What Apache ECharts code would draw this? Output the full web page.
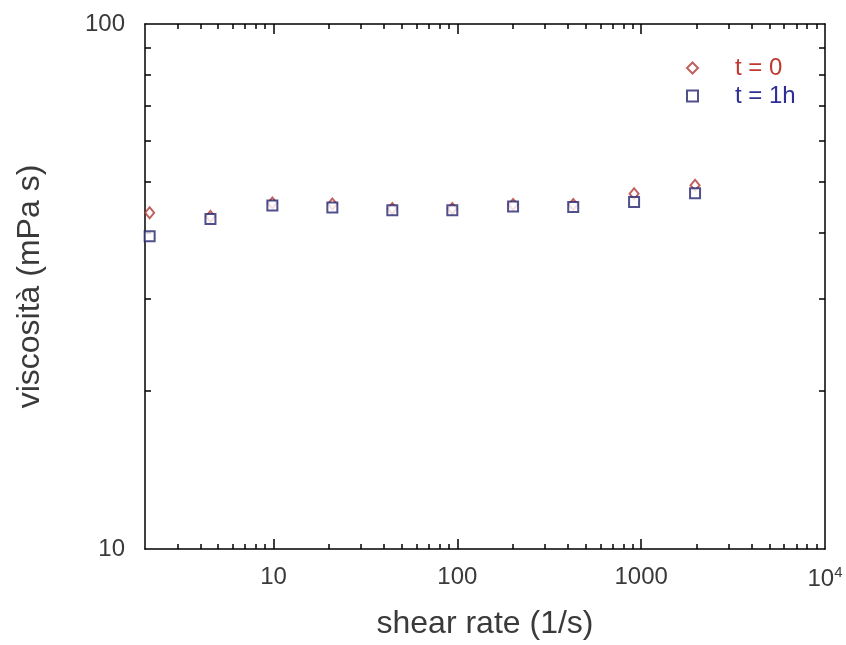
<!DOCTYPE html>
<html>
<head>
<meta charset="utf-8">
<script src="https://cdn.jsdelivr.net/npm/echarts@6/dist/echarts.min.js"></script>
<style>html,body{margin:0;padding:0;background:#fff}#c{width:846px;height:645px}</style>
</head>
<body>
<div id="c"></div>
<script>
const shearRate = [2.12, 4.54, 9.86, 20.9, 44.3, 93.9, 201, 427, 915, 1964];
const viscT0 = [43.7, 43.0, 45.6, 45.4, 44.5, 44.5, 45.3, 45.3, 47.5, 49.3];
const viscT1h = [39.4, 42.5, 45.1, 44.7, 44.2, 44.2, 44.9, 44.8, 45.8, 47.6];
const seriesNames = ['t = 0', 't = 1h'];
const xMajorTicks = [10, 100, 1000];
const xMinorTicks = [3,4,5,6,7,8,9,20,30,40,50,60,70,80,90,200,300,400,500,600,700,800,900,2000,3000,4000,5000,6000,7000,8000,9000];
const xLabels = [10, 100, 1000, 10000];
const yTicks = [20,30,40,50,60,70,80,90];
const yLabels = [10, 100];
const xTitle = 'shear rate (1/s)';
const yTitle = 'viscosità (mPa s)';

const FONT = 'Liberation Sans, Arial, sans-serif';
const RED = '#b03a36';
const BLUE = '#24246e';
const RED_TXT = '#c0392f';
const BLUE_TXT = '#2e2e96';
const TXT = '#3a3a3a';

const chart = echarts.init(document.getElementById('c'), null, {renderer: 'canvas'});

function xAxisBase(pos, extra) {
  return Object.assign({
    type: 'log', logBase: 10, min: 2, max: 10000, position: pos,
    splitLine: {show: false}, minorTick: {show: false}, minorSplitLine: {show: false},
    axisLine: {show: true, onZero: false, lineStyle: {color: '#000', width: 1.5}},
    axisLabel: {show: false},
    axisTick: {show: true, inside: true, length: 5, lineStyle: {color: '#000', width: 1.5}, customValues: xMinorTicks}
  }, extra || {});
}
function yAxisBase(pos, extra) {
  return Object.assign({
    type: 'log', logBase: 10, min: 10, max: 100, position: pos,
    splitLine: {show: false}, minorTick: {show: false}, minorSplitLine: {show: false},
    axisLine: {show: true, onZero: false, lineStyle: {color: '#000', width: 1.5}},
    axisLabel: {show: false},
    axisTick: {show: true, inside: true, length: 6, lineStyle: {color: '#000', width: 1.5}, customValues: yTicks}
  }, extra || {});
}

const option = {
  backgroundColor: '#fff',
  animation: false,
  grid: {left: 145, right: 21, top: 24, bottom: 91, containLabel: false},
  legend: {
    orient: 'vertical', left: 681, top: 51, itemWidth: 11, itemHeight: 11, itemGap: 4,
    data: [
      {name: seriesNames[0], textStyle: {color: RED_TXT}},
      {name: seriesNames[1], textStyle: {color: BLUE_TXT}}
    ],
    textStyle: {fontFamily: FONT, fontSize: 24, padding: [0, 0, 0, 32]}
  },
  xAxis: [
    xAxisBase('bottom', {
      name: xTitle, nameLocation: 'middle', nameGap: 59,
      nameTextStyle: {fontFamily: FONT, fontSize: 32, color: TXT},
      axisLabel: {
        show: true, margin: 16, fontFamily: FONT, fontSize: 24, color: TXT, customValues: xLabels,
        formatter: function (v) { return v >= 10000 ? '{a|10}{s|4}' : String(Math.round(v)); },
        rich: {a: {fontFamily: FONT, fontSize: 24, color: TXT}, s: {fontFamily: FONT, fontSize: 15, color: TXT, verticalAlign: 'top', padding: [0, 0, 14, 0]}}
      }
    }),
    xAxisBase('bottom', {axisLine: {show: false}, axisTick: {show: true, inside: true, length: 10, lineStyle: {color: '#000', width: 1.5}, customValues: xMajorTicks}}),
    xAxisBase('top'),
    xAxisBase('top', {axisLine: {show: false}, axisTick: {show: true, inside: true, length: 10, lineStyle: {color: '#000', width: 1.5}, customValues: xMajorTicks}})
  ],
  yAxis: [
    yAxisBase('left', {
      name: yTitle, nameLocation: 'middle', nameGap: 99, nameRotate: 90,
      nameTextStyle: {fontFamily: FONT, fontSize: 32, color: TXT},
      axisLabel: {show: true, margin: 20, fontFamily: FONT, fontSize: 24, color: TXT, customValues: yLabels,
        formatter: function (v) { return String(Math.round(v)); }}
    }),
    yAxisBase('right')
  ],
  series: [
    {
      name: seriesNames[0], type: 'scatter', xAxisIndex: 0, yAxisIndex: 0,
      symbol: 'emptyDiamond', symbolSize: [9, 11],
      itemStyle: {color: RED, borderColor: RED, borderWidth: 1.4},
      data: shearRate.map((x, i) => [x, viscT0[i]])
    },
    {
      name: seriesNames[1], type: 'scatter', xAxisIndex: 0, yAxisIndex: 0,
      symbol: 'emptyRect', symbolSize: [10, 10],
      itemStyle: {color: BLUE, borderColor: BLUE, borderWidth: 1.7},
      data: shearRate.map((x, i) => [x, viscT1h[i]])
    }
  ]
};
chart.setOption(option);
</script>
</body>
</html>
